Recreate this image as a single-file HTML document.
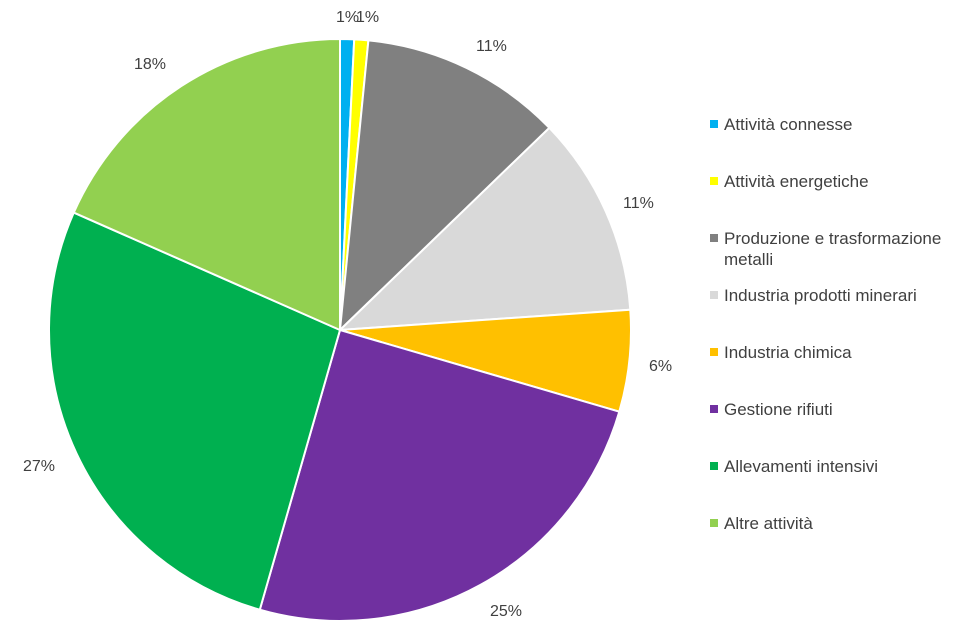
<!DOCTYPE html>
<html><head><meta charset="utf-8"><style>
body{margin:0;background:#fff;}
svg text{font-family:"Liberation Sans",sans-serif;font-size:16px;fill:#404040;}
svg .lg text{font-size:17px;}
</style></head><body>
<svg id="s" width="976" height="638" xmlns="http://www.w3.org/2000/svg">
<rect width="976" height="638" fill="#fff"/>
<g id="pie"></g>
<text x="336" y="22">1%</text><text x="356" y="22">1%</text>
<text x="476" y="51">11%</text>
<text x="623" y="208">11%</text>
<text x="649" y="371">6%</text>
<text x="490" y="616">25%</text>
<text x="23" y="471">27%</text>
<text x="134" y="69">18%</text>
<g class="lg">
<rect x="710" y="120" width="8" height="8" fill="#00b0f0"/><text x="724" y="130">Attività connesse</text>
<rect x="710" y="177" width="8" height="8" fill="#ffff00"/><text x="724" y="187">Attività energetiche</text>
<rect x="710" y="234" width="8" height="8" fill="#808080"/><text x="724" y="244">Produzione e trasformazione</text><text x="724" y="265">metalli</text>
<rect x="710" y="291" width="8" height="8" fill="#d9d9d9"/><text x="724" y="301">Industria prodotti minerari</text>
<rect x="710" y="348" width="8" height="8" fill="#ffc000"/><text x="724" y="358">Industria chimica</text>
<rect x="710" y="405" width="8" height="8" fill="#7030a0"/><text x="724" y="415">Gestione rifiuti</text>
<rect x="710" y="462" width="8" height="8" fill="#00b050"/><text x="724" y="472">Allevamenti intensivi</text>
<rect x="710" y="519" width="8" height="8" fill="#92d050"/><text x="724" y="529">Altre attività</text>
</g>
</svg>
<script>
var cx=340,cy=330,r=291;
var a=[0,2.8,5.6,46,86,106.3,196,293.8,360];
var c=["#00b0f0","#ffff00","#808080","#d9d9d9","#ffc000","#7030a0","#00b050","#92d050"];
var g=document.getElementById("pie"),h="";
function p(d){var t=d*Math.PI/180;return (cx+r*Math.sin(t)).toFixed(2)+","+(cy-r*Math.cos(t)).toFixed(2);}
for(var i=0;i<8;i++){var l=(a[i+1]-a[i])>180?1:0;
h+='<path d="M'+cx+','+cy+' L'+p(a[i])+' A'+r+','+r+' 0 '+l+' 1 '+p(a[i+1])+' Z" fill="'+c[i]+'" stroke="#fff" stroke-width="2"/>';}
g.innerHTML=h;
</script>
</body></html>
